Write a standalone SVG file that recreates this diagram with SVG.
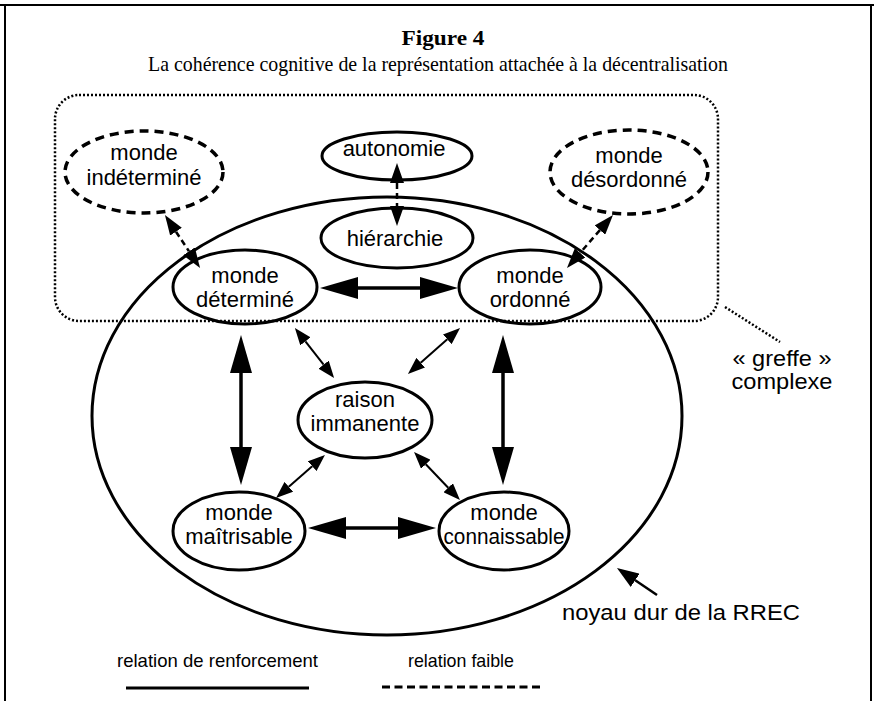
<svg xmlns="http://www.w3.org/2000/svg" width="874" height="701" viewBox="0 0 874 701">
<style>
.node{fill:#fff;stroke:#000;stroke-width:3}
.weak{fill:#fff;stroke:#000;stroke-width:3.5;stroke-dasharray:9 6}
.lbl{font-family:"Liberation Sans",Arial,sans-serif;font-size:22px;fill:#000;text-anchor:middle}
.leg{font-family:"Liberation Sans",Arial,sans-serif;font-size:19px;fill:#000}
.title{font-family:"Liberation Serif","Times New Roman",serif;fill:#000;text-anchor:middle}
.thick{stroke:#000;stroke-width:3.5;fill:none;marker-start:url(#big);marker-end:url(#big)}
.thin{stroke:#000;stroke-width:2;fill:none;marker-start:url(#small);marker-end:url(#small)}
.dash{stroke:#000;stroke-width:2.5;fill:none;stroke-dasharray:6 4;marker-start:url(#mid);marker-end:url(#mid)}
</style>
<defs>
<marker id="big" markerUnits="userSpaceOnUse" markerWidth="38" markerHeight="22" refX="0" refY="11" orient="auto-start-reverse" viewBox="0 0 38 22"><path d="M0,0 L38,11 L0,22 z" fill="#000"/></marker>
<marker id="small" markerUnits="userSpaceOnUse" markerWidth="17" markerHeight="13" refX="0" refY="6.5" orient="auto-start-reverse" viewBox="0 0 17 13"><path d="M0,0 L17,6.5 L0,13 z" fill="#000"/></marker>
<marker id="mid" markerUnits="userSpaceOnUse" markerWidth="20" markerHeight="14" refX="0" refY="7" orient="auto-start-reverse" viewBox="0 0 20 14"><path d="M0,0 L20,7 L0,14 z" fill="#000"/></marker>
<marker id="ptr" markerUnits="userSpaceOnUse" markerWidth="22" markerHeight="16" refX="0" refY="8" orient="auto" viewBox="0 0 22 16"><path d="M0,0 L22,8 L0,16 z" fill="#000"/></marker>
</defs>
<rect width="874" height="701" fill="#fff"/>
<g id="frame" stroke="#000" stroke-width="2" fill="none">
<line x1="0" y1="5" x2="874" y2="5"/>
<line x1="5" y1="5" x2="5" y2="701"/>
<line x1="871" y1="5" x2="871" y2="701"/>
</g>
<g id="title">
<text class="title" x="443" y="45" font-size="22" font-weight="bold" textLength="83" lengthAdjust="spacingAndGlyphs">Figure 4</text>
<text class="title" x="438" y="71" font-size="21" textLength="580" lengthAdjust="spacingAndGlyphs">La cohérence cognitive de la représentation attachée à la décentralisation</text>
</g>
<g id="greffe">
<rect x="55" y="95" width="663" height="226" rx="24" fill="none" stroke="#000" stroke-width="2.5" stroke-dasharray="2 2"/>
<line x1="725" y1="307" x2="780" y2="342" stroke="#000" stroke-width="2.5" stroke-dasharray="2 2"/>
<text class="lbl" x="782" y="366" font-size="21" textLength="99" lengthAdjust="spacingAndGlyphs">« greffe »</text>
<text class="lbl" x="782" y="389" font-size="21" textLength="101" lengthAdjust="spacingAndGlyphs">complexe</text>
</g>
<g id="noyau">
<ellipse cx="387" cy="416" rx="295" ry="219" fill="none" stroke="#000" stroke-width="3"/>
<text class="lbl" x="681" y="620" textLength="238" lengthAdjust="spacingAndGlyphs">noyau dur de la RREC</text>
</g>
<g id="connectors">
<line class="thick" x1="358" y1="288" x2="420" y2="288"/>
<line class="thick" x1="346" y1="528" x2="398" y2="528"/>
<line class="thick" x1="241" y1="373" x2="241" y2="447"/>
<line class="thick" x1="503" y1="373" x2="503" y2="447"/>
<line class="thin" x1="305.4" y1="341.4" x2="323.6" y2="364.6"/>
<line class="thin" x1="447.3" y1="339.3" x2="420.7" y2="362.7"/>
<line class="thin" x1="312.2" y1="466.2" x2="288.8" y2="486.8"/>
<line class="thin" x1="425.8" y1="464.3" x2="448.2" y2="487.7"/>
<line class="dash" x1="397" y1="183" x2="397" y2="206"/>
<line class="dash" x1="176" y1="231.7" x2="189" y2="251.3"/>
<line class="dash" x1="599.9" y1="230.1" x2="580.1" y2="252.9"/>
<line x1="657" y1="595" x2="635.2" y2="580.3" stroke="#000" stroke-width="2.5" marker-end="url(#ptr)"/>
</g>
<g id="n-indetermine">
<ellipse class="weak" cx="144" cy="172" rx="79" ry="41"/>
<text class="lbl" x="144" y="160">monde</text>
<text class="lbl" x="144" y="185">indéterminé</text>
</g>
<g id="n-desordonne">
<ellipse class="weak" cx="629" cy="172" rx="79" ry="42"/>
<text class="lbl" x="629" y="163">monde</text>
<text class="lbl" x="629" y="187">désordonné</text>
</g>
<g id="n-autonomie">
<ellipse class="node" cx="397" cy="156" rx="75" ry="24" fill-opacity="0"/>
<text class="lbl" x="394" y="156">autonomie</text>
</g>
<g id="n-hierarchie">
<ellipse class="node" cx="397" cy="238" rx="76" ry="30" fill-opacity="0"/>
<text class="lbl" x="395" y="246">hiérarchie</text>
</g>
<g id="n-determine">
<ellipse class="node" cx="245" cy="287" rx="72" ry="37" fill-opacity="0"/>
<text class="lbl" x="245" y="283">monde</text>
<text class="lbl" x="245" y="307">déterminé</text>
</g>
<g id="n-ordonne">
<ellipse class="node" cx="530" cy="287" rx="71" ry="37" fill-opacity="0"/>
<text class="lbl" x="530" y="283">monde</text>
<text class="lbl" x="530" y="307">ordonné</text>
</g>
<g id="n-raison">
<ellipse class="node" cx="365" cy="420" rx="67" ry="38"/>
<text class="lbl" x="365" y="407">raison</text>
<text class="lbl" x="365" y="431">immanente</text>
</g>
<g id="n-maitrisable">
<ellipse class="node" cx="239" cy="531" rx="66" ry="39"/>
<text class="lbl" x="239" y="520">monde</text>
<text class="lbl" x="239" y="544">maîtrisable</text>
</g>
<g id="n-connaissable">
<ellipse class="node" cx="504" cy="531" rx="65" ry="39"/>
<text class="lbl" x="504" y="520">monde</text>
<text class="lbl" x="504" y="544" textLength="121" lengthAdjust="spacingAndGlyphs">connaissable</text>
</g>
<g id="legend">
<text class="leg" x="117" y="667" textLength="201" lengthAdjust="spacingAndGlyphs">relation de renforcement</text>
<line x1="126" y1="688" x2="309" y2="688" stroke="#000" stroke-width="3"/>
<text class="leg" x="408" y="667" textLength="106" lengthAdjust="spacingAndGlyphs">relation faible</text>
<line x1="382" y1="687" x2="542" y2="687" stroke="#000" stroke-width="3" stroke-dasharray="8 4.5"/>
</g>
</svg>
